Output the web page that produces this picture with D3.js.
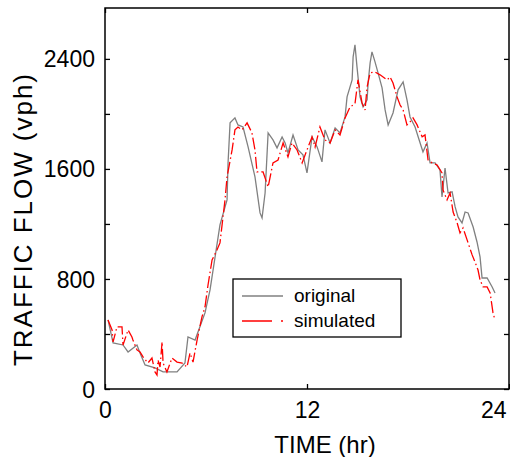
<!DOCTYPE html>
<html>
<head>
<meta charset="utf-8">
<script src="https://cdn.jsdelivr.net/npm/d3@7"></script>
<style>
  body { margin: 0; background: #fff; }
  text { font-family: Arial, "Liberation Sans", sans-serif; }
</style>
</head>
<body>
<script>
// values
const origTime = [0.18, 0.48, 1.07, 1.37, 1.90, 2.08, 2.38, 2.97, 3.45, 4.28, 4.75, 4.93, 5.35, 5.94, 6.24, 6.54, 6.83, 7.25, 7.31, 7.43,
  7.72, 7.90, 8.20, 8.50, 8.91, 9.21, 9.33, 9.51, 9.69, 9.98, 10.22, 10.52, 10.70, 10.87, 11.17, 11.47, 11.76, 12.00, 12.30, 12.60,
  12.89, 13.07, 13.37, 13.67, 13.96, 14.26, 14.38, 14.68, 14.74, 14.85, 14.97, 15.15, 15.33, 15.57, 15.63, 15.75, 15.86, 16.04, 16.22, 16.46,
  16.64, 16.82, 17.11, 17.41, 17.71, 17.94, 18.12, 18.42, 18.72, 18.89, 19.13, 19.31, 19.61, 19.90, 20.02, 20.20, 20.38, 20.62, 20.80, 20.97,
  21.21, 21.39, 21.57, 21.87, 22.10, 22.28, 22.40, 22.70, 23.00, 23.17];
const origFlow = [502, 335, 320, 269, 320, 262, 175, 153, 124, 124, 189, 378, 356, 553, 720, 960, 1193, 1375, 1644, 1935,
  1971, 1920, 1905, 1760, 1542, 1280, 1244, 1425, 1862, 1811, 1753, 1833, 1789, 1716, 1847, 1738, 1702, 1571, 1833, 1760,
  1651, 1884, 1789, 1898, 1862, 1978, 2124, 2247, 2415, 2502, 2342, 2124, 2051, 2102, 2225, 2371, 2451, 2378, 2298, 2189,
  2029, 1920, 2007, 2175, 2233, 2102, 1978, 1905, 1789, 1724, 1789, 1644, 1644, 1593, 1396, 1607, 1425, 1433, 1324, 1251,
  1207, 1287, 1280, 1178, 1069, 960, 807, 807, 742, 698];

const simTime = [0.18, 0.42, 0.48, 0.71, 1.01, 1.07, 1.37, 1.60, 1.66, 1.90, 2.08, 2.26, 2.55, 2.79, 2.97, 3.09, 3.15, 3.27, 3.39, 3.45,
  3.68, 3.98, 4.28, 4.58, 4.87, 5.05, 5.23, 5.47, 5.76, 5.94, 6.12, 6.36, 6.65, 6.83, 7.13, 7.25, 7.55, 7.72, 7.90, 8.14,
  8.44, 8.73, 8.91, 9.03, 9.21, 9.39, 9.69, 9.98, 10.28, 10.58, 10.87, 11.11, 11.41, 11.71, 12.00, 12.30, 12.48, 12.77, 13.07, 13.37,
  13.67, 13.96, 14.26, 14.56, 14.85, 15.03, 15.27, 15.45, 15.57, 15.75, 16.04, 16.34, 16.76, 16.93, 17.11, 17.35, 17.53, 17.71, 17.94, 18.12,
  18.30, 18.54, 18.84, 19.01, 19.19, 19.43, 19.73, 20.02, 20.08, 20.32, 20.50, 20.68, 20.92, 21.09, 21.27, 21.51, 21.81, 21.98, 22.16, 22.28,
  22.46, 22.70, 22.88, 23.05, 23.17];
const simFlow = [502, 429, 342, 451, 451, 320, 429, 378, 356, 284, 269, 233, 189, 225, 124, 102, 211, 160, 342, 189,
  124, 225, 196, 189, 160, 262, 196, 356, 524, 596, 756, 938, 1011, 1062, 1375, 1542, 1738, 1884, 1905, 1884,
  1935, 1862, 1738, 1578, 1578, 1578, 1469, 1644, 1665, 1789, 1687, 1789, 1738, 1644, 1738, 1833, 1760, 1905, 1811, 1789,
  1884, 1847, 1971, 2051, 2073, 2247, 2080, 2029, 2196, 2298, 2305, 2284, 2247, 2269, 2225, 2124, 2065, 2029, 1920, 1942,
  1971, 1920, 1833, 1847, 1665, 1644, 1629, 1571, 1447, 1375, 1425, 1287, 1207, 1135, 1171, 1084, 975, 924, 865, 793,
  742, 742, 698, 553, 502];

const yTicks = [0, 400, 800, 1200, 1600, 2000, 2400];
const xTicks = [0, 12, 24];
const seriesNames = ['original', 'simulated'];

const width = 510, height = 457;
const plotLeft = 105, plotRight = 509, plotTop = 8, plotBottom = 389;

const svg = d3.select('body').append('svg')
  .attr('width', width)
  .attr('height', height);

const x = d3.scaleLinear().domain([0, 24]).range([plotLeft, plotRight]);
const y = d3.scaleLinear().domain([0, 2770]).range([plotBottom, plotTop]);

const line = d3.line()
  .x(d => x(d[0]))
  .y(d => y(d[1]));

const orig = origTime.map((t, i) => [t, origFlow[i]]);
const sim = simTime.map((t, i) => [t, simFlow[i]]);

svg.append('path')
  .datum(orig)
  .attr('d', line)
  .attr('fill', 'none')
  .attr('stroke', '#808080')
  .attr('stroke-width', 1.3);

svg.append('path')
  .datum(sim)
  .attr('d', line)
  .attr('fill', 'none')
  .attr('stroke', '#ff0000')
  .attr('stroke-width', 1.3)
  .attr('stroke-dasharray', '12,3,1.5,3');

// axes, ticks pointing inward on all four sides
const fmtY = d => (d % 800 === 0 ? d : '');
const yLeft = svg.append('g')
  .attr('transform', `translate(${plotLeft},0)`)
  .call(d3.axisLeft(y).tickValues(yTicks).tickSize(-5).tickPadding(10).tickFormat(fmtY));
svg.append('g')
  .attr('transform', `translate(${plotRight},0)`)
  .call(d3.axisRight(y).tickValues(yTicks).tickSize(-5).tickFormat(''));
const xBottom = svg.append('g')
  .attr('transform', `translate(0,${plotBottom})`)
  .call(d3.axisBottom(x).tickValues(xTicks).tickSize(-5).tickPadding(12));
svg.append('g')
  .attr('transform', `translate(0,${plotTop})`)
  .call(d3.axisTop(x).tickValues(xTicks).tickSize(-5).tickFormat(''));

svg.selectAll('.domain').remove();
svg.selectAll('.tick line').attr('stroke', '#000').attr('stroke-width', 1.3);
yLeft.selectAll('text').attr('font-size', 23).attr('fill', '#000').attr('dy', '0.35em');
xBottom.selectAll('text').attr('font-size', 23).attr('fill', '#000').attr('dy', '0.75em');
// the last label sits inside the figure edge, as in the original
xBottom.selectAll('.tick text').filter(d => d === 24)
  .attr('text-anchor', 'end')
  .attr('x', -3);

svg.append('rect')
  .attr('x', plotLeft)
  .attr('y', plotTop)
  .attr('width', plotRight - plotLeft)
  .attr('height', plotBottom - plotTop)
  .attr('fill', 'none')
  .attr('stroke', '#000')
  .attr('stroke-width', 1.5);

// axis titles
svg.append('text')
  .attr('x', 325)
  .attr('y', 453)
  .attr('text-anchor', 'middle')
  .attr('font-size', 24)
  .text('TIME (hr)');

svg.append('text')
  .attr('transform', `translate(32,220) rotate(-90)`)
  .attr('text-anchor', 'middle')
  .attr('font-size', 26)
  .attr('textLength', 292)
  .attr('lengthAdjust', 'spacing')
  .text('TRAFFIC FLOW (vph)');

// legend
const legend = svg.append('g');
legend.append('rect')
  .attr('x', 233).attr('y', 279)
  .attr('width', 168).attr('height', 58)
  .attr('fill', '#fff')
  .attr('stroke', '#000')
  .attr('stroke-width', 1.3);

const legendStyles = [
  { color: '#808080', dash: null },
  { color: '#ff0000', dash: '30,9,2,9' }
];
seriesNames.forEach((name, i) => {
  const ly = 296 + i * 25;
  legend.append('line')
    .attr('x1', 242).attr('x2', 283)
    .attr('y1', ly).attr('y2', ly)
    .attr('stroke', legendStyles[i].color)
    .attr('stroke-width', 1.3)
    .attr('stroke-dasharray', legendStyles[i].dash);
  legend.append('text')
    .attr('x', 294)
    .attr('y', ly + 6)
    .attr('font-size', 19)
    .text(name);
});
</script>
</body>
</html>
